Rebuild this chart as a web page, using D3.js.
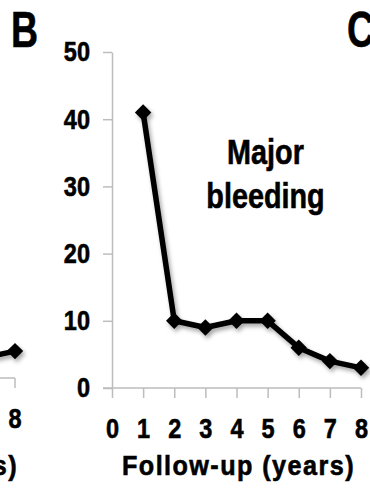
<!DOCTYPE html>
<html>
<head>
<meta charset="utf-8">
<script src="https://cdn.jsdelivr.net/npm/d3@7"></script>
<style>
  body { margin: 0; background: #fff; }
  svg text { font-family: "Liberation Sans", Arial, sans-serif; font-weight: bold; fill: #000; stroke: #000; stroke-width: 0.6px; }
</style>
</head>
<body>
<div id="chart"></div>
<script>
const width = 370;
const height = 489;

// panel B: major bleeding (%) by follow-up year
const years = [1, 2, 3, 4, 5, 6, 7, 8];
const bleeding = [41, 10, 9, 10, 10, 6, 4, 3];
const yTicks = [0, 10, 20, 30, 40, 50];
const xTicks = [0, 1, 2, 3, 4, 5, 6, 7, 8];

// tail of the neighbouring panel, cut by the left edge
const prevYears = [7, 8];
const prevValues = [3, 4];

// no narrow font installed, so squeeze the bold sans horizontally
function condense(sel, sx) {
  sel.each(function () {
    const t = d3.select(this);
    const x0 = +t.attr('x') || 0;
    t.attr('x', x0 / sx).attr('transform', `scale(${sx},1)`);
    t.selectAll('tspan').each(function () {
      const s = d3.select(this);
      if (s.attr('x') != null) s.attr('x', +s.attr('x') / sx);
    });
  });
}

const svg = d3.select('#chart')
  .append('svg')
  .attr('width', width)
  .attr('height', height);

const defs = svg.append('defs');
const shadow = defs.append('filter')
  .attr('id', 'shadow')
  .attr('x', '-20%').attr('y', '-20%')
  .attr('width', '140%').attr('height', '140%');
shadow.append('feDropShadow')
  .attr('dx', 2).attr('dy', 3)
  .attr('stdDeviation', 2)
  .attr('flood-color', '#000')
  .attr('flood-opacity', 0.35);

const x = d3.scaleLinear().domain([0, 8]).range([112, 361]);
const y = d3.scaleLinear().domain([0, 50]).range([388, 52]);

const axisColor = '#bdbdbd';

// y axis
const yAxis = svg.append('g')
  .attr('transform', `translate(${x(0)},0)`)
  .call(d3.axisLeft(y).tickValues(yTicks).tickSize(9).tickSizeOuter(0).tickPadding(13));
yAxis.select('.domain').attr('stroke', axisColor).attr('stroke-width', 1.5);
yAxis.selectAll('.tick line').attr('stroke', axisColor).attr('stroke-width', 1.5);
yAxis.selectAll('.tick text').style('font-size', '28px').call(condense, 0.84);

// x axis
const xAxis = svg.append('g')
  .attr('transform', `translate(0,${y(0)})`)
  .call(d3.axisBottom(x).tickValues(xTicks).tickSize(10).tickSizeOuter(0));
xAxis.select('.domain').remove();
xAxis.append('line')
  .attr('x1', x(0) - 9).attr('x2', x(8))
  .attr('stroke', axisColor).attr('stroke-width', 1.5);
xAxis.selectAll('.tick line').attr('stroke', axisColor).attr('stroke-width', 1.5);
xAxis.selectAll('.tick text')
  .attr('y', 50).attr('dy', 0)
  .style('font-size', '28px')
  .call(condense, 0.84);

svg.append('text')
  .attr('x', (x(0) + x(8)) / 2 + 2)
  .attr('y', 475)
  .attr('text-anchor', 'middle')
  .style('font-size', '28px')
  .style('letter-spacing', '1.6px')
  .text('Follow-up (years)')
  .call(condense, 0.9);

// series
const pts = years.map((d, i) => ({ year: d, value: bleeding[i] }));
const line = d3.line().x((d) => x(d.year)).y((d) => y(d.value));

const series = svg.append('g').attr('filter', 'url(#shadow)');
series.append('path')
  .datum(pts)
  .attr('d', line)
  .attr('fill', 'none')
  .attr('stroke', '#000')
  .attr('stroke-width', 5.5)
  .attr('stroke-linejoin', 'round');

const diamond = d3.symbol().type(d3.symbolSquare).size(135);
series.selectAll('.marker')
  .data(pts)
  .enter()
  .append('path')
  .attr('class', 'marker')
  .attr('d', diamond)
  .attr('transform', (d) => `translate(${x(d.year)},${y(d.value)}) rotate(45)`)
  .attr('fill', '#000');

svg.append('text')
  .attr('x', 265.5)
  .attr('y', 164)
  .attr('text-anchor', 'middle')
  .style('font-size', '36px')
  .selectAll('tspan')
  .data(['Major', 'bleeding'])
  .enter()
  .append('tspan')
  .attr('x', 265.5)
  .attr('dy', (d, i) => (i === 0 ? 0 : 44))
  .text((d) => d);
svg.selectAll('text').filter(function () { return this.querySelector('tspan'); })
  .call(condense, 0.8);

// neighbouring panel pieces
const xPrev = d3.scaleLinear().domain([0, 8]).range([15 - 249, 15]);
const yPrev = d3.scaleLinear().domain([0, 50]).range([378, 42]);

const prev = svg.append('g');
prev.append('line')
  .attr('x1', xPrev(0)).attr('x2', xPrev(8))
  .attr('y1', yPrev(0)).attr('y2', yPrev(0))
  .attr('stroke', axisColor).attr('stroke-width', 1.5);
prev.append('line')
  .attr('x1', xPrev(8)).attr('x2', xPrev(8))
  .attr('y1', yPrev(0)).attr('y2', yPrev(0) + 10)
  .attr('stroke', axisColor).attr('stroke-width', 1.5);
prev.append('text')
  .attr('x', xPrev(8))
  .attr('y', yPrev(0) + 50)
  .attr('text-anchor', 'middle')
  .style('font-size', '28px')
  .text('8')
  .call(condense, 0.84);
prev.append('text')
  .attr('x', xPrev(8) + 3)
  .attr('y', 475)
  .attr('text-anchor', 'end')
  .style('font-size', '28px')
  .style('letter-spacing', '1.6px')
  .text('Follow-up (years)')
  .call(condense, 0.9);

const prevPts = prevYears.map((d, i) => ({ year: d, value: prevValues[i] }));
const prevLine = d3.line().x((d) => xPrev(d.year)).y((d) => yPrev(d.value));
const prevSeries = prev.append('g').attr('filter', 'url(#shadow)');
prevSeries.append('path')
  .datum(prevPts)
  .attr('d', prevLine)
  .attr('fill', 'none')
  .attr('stroke', '#000')
  .attr('stroke-width', 5.5);
prevSeries.selectAll('.marker')
  .data(prevPts)
  .enter()
  .append('path')
  .attr('d', diamond)
  .attr('transform', (d) => `translate(${xPrev(d.year)},${yPrev(d.value)}) rotate(45)`)
  .attr('fill', '#000');

// panel letters
svg.append('text')
  .attr('x', 11).attr('y', 47)
  .style('font-size', '50px')
  .text('B')
  .call(condense, 0.75);
svg.append('text')
  .attr('x', 347).attr('y', 47)
  .style('font-size', '50px')
  .text('C')
  .call(condense, 0.75);
</script>
</body>
</html>
